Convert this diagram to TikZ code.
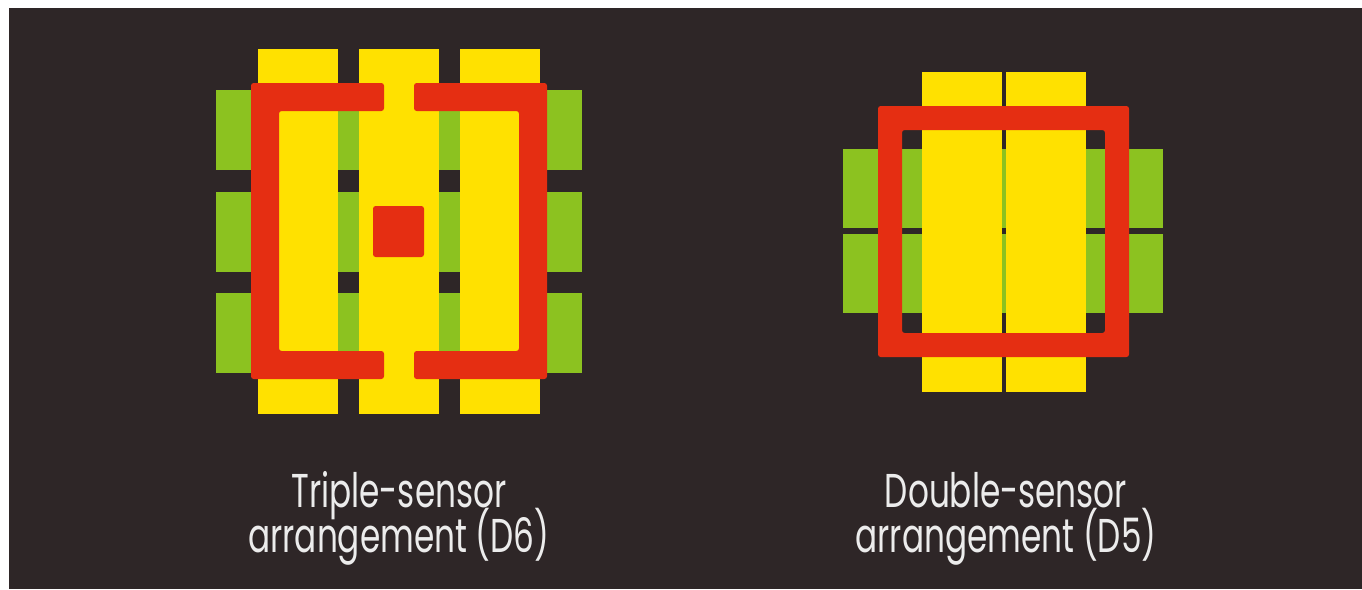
\documentclass[tikz,border=0pt]{standalone}
\usepackage{fontspec}
\newfontfamily\capfont{Poppins}[FakeStretch=0.69]
\newcommand\capsize{\fontsize{27}{25.6}\selectfont\setlength{\lineskiplimit}{-20pt}}
\definecolor{bgdark}{HTML}{2E2627}
\definecolor{sensyellow}{HTML}{FFE100}
\definecolor{sensgreen}{HTML}{8CC220}
\definecolor{sensred}{HTML}{E52E12}
\definecolor{captext}{HTML}{ECECEC}

\begin{document}
\begin{tikzpicture}[x=0.02cm, y=-0.02cm,
    greenrow/.style={fill=sensgreen},
    yellowbar/.style={fill=sensyellow},
    redframe/.style={fill=sensred, rounded corners=1.5pt},
    caption/.style={text=captext, align=center, anchor=base, inner sep=0pt,
        font=\capfont\capsize}]
    \useasboundingbox (0,0) rectangle (1362,589);
    \fill[white] (0,0) rectangle (1362,589);
    \fill[bgdark] (9,8) rectangle (1362,589);
    % triple sensor (D6)
    \foreach \y in {90,192,293}
        \fill[greenrow] (216,\y) rectangle (582,\y+80);
    \foreach \x in {258,359,460}
        \fill[yellowbar] (\x,49) rectangle (\x+80,414);
    \fill[redframe] (384,83) -- (251,83) -- (251,379) -- (384,379) -- (384,351) -- (279,351) -- (279,111) -- (384,111) -- cycle;
    \fill[redframe] (414,83) -- (547,83) -- (547,379) -- (414,379) -- (414,351) -- (519,351) -- (519,111) -- (414,111) -- cycle;
    \fill[redframe] (373,206) rectangle (424,257);
    \node[caption] (tripletext) at (399,552) {Triple-sensor\\arrangement (D6)};
    % double sensor (D5)
    \foreach \y in {149,234}
        \fill[greenrow] (843,\y) rectangle (1163,\y+79);
    \foreach \x in {922,1006}
        \fill[yellowbar] (\x,72) rectangle (\x+80,392);
    \fill[redframe, even odd rule] (878,106) rectangle (1129,357) (902,130) rectangle (1105,333);
    \node[caption] (doubletext) at (1006,552) {Double-sensor\\arrangement (D5)};
\end{tikzpicture}
\end{document}
